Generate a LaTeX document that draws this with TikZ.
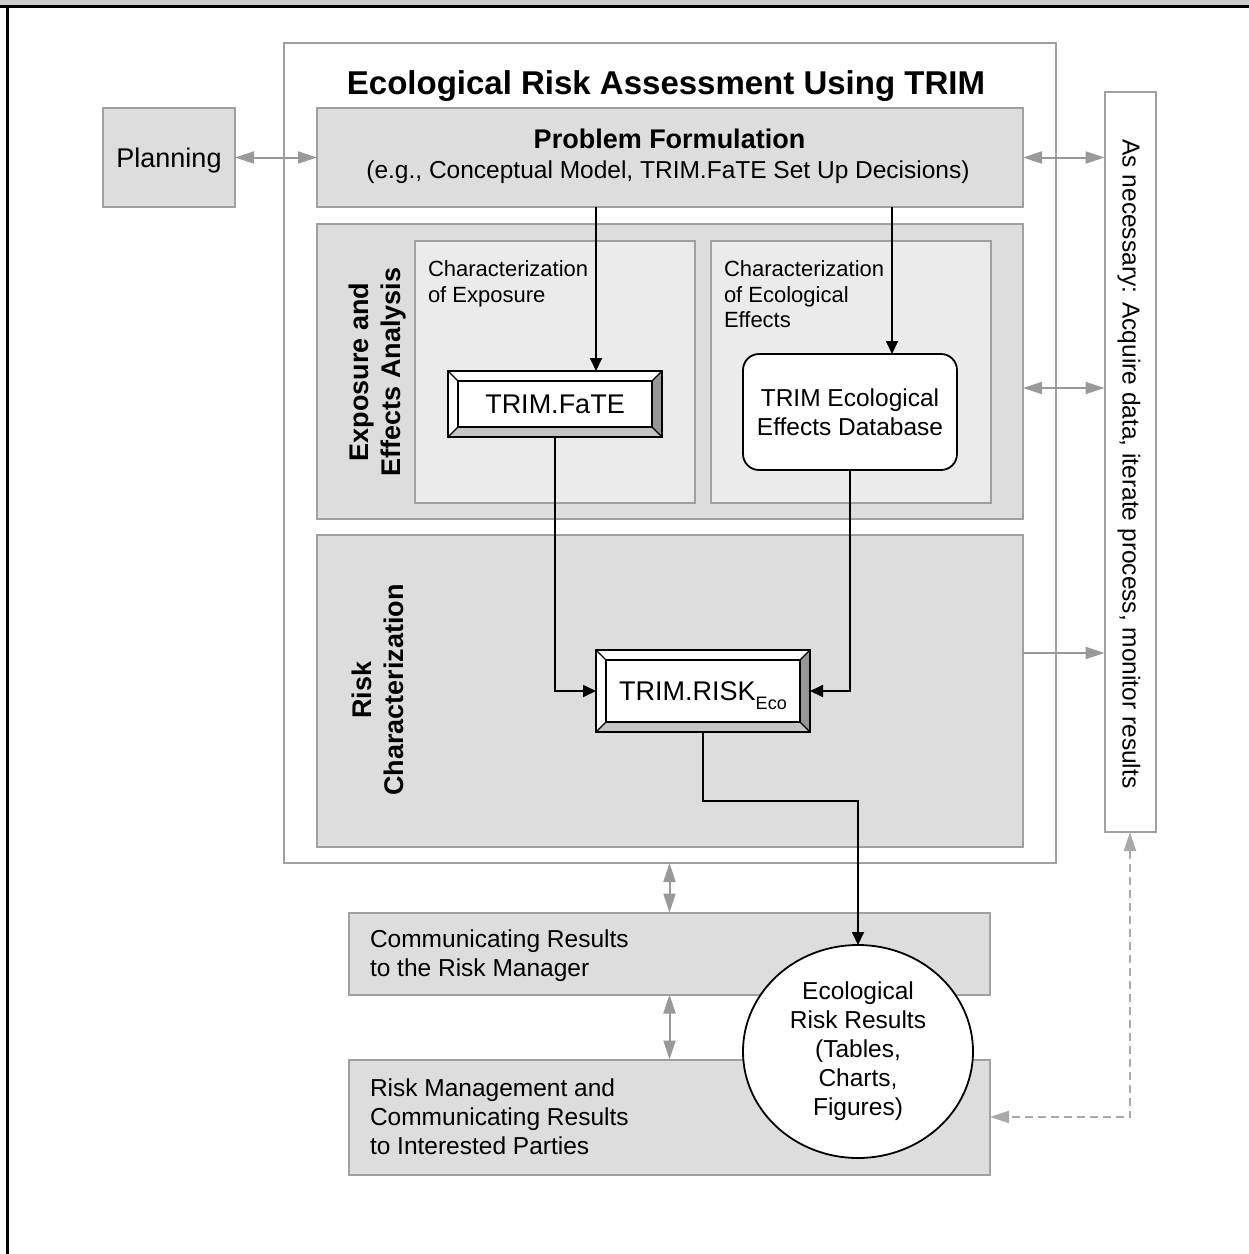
\documentclass[tikz,border=0pt]{standalone}
\usepackage{fontspec}
\setmainfont{Liberation Sans}
\usepackage{tikz}
\usetikzlibrary{arrows.meta}
\usetikzlibrary{shapes.geometric}
\definecolor{framegray}{HTML}{CCCCCC}
\definecolor{boxfill}{HTML}{DDDDDD}
\definecolor{innerfill}{HTML}{EBEBEB}
\definecolor{boxline}{HTML}{A0A0A0}
\definecolor{arrowgray}{HTML}{999999}
\definecolor{dashgray}{HTML}{AAAAAA}
\definecolor{bevelbot}{HTML}{C4C4C4}
\definecolor{bevelside}{HTML}{969696}
\newcommand{\bevelframe}[1]{%
  \fill[bevelbot] (#1.south west) -- (#1.south east) -- ([shift={(-10,-10)}]#1.south east) -- ([shift={(10,-10)}]#1.south west) -- cycle;
  \fill[bevelside] (#1.north east) -- (#1.south east) -- ([shift={(-10,-10)}]#1.south east) -- ([shift={(-10,10)}]#1.north east) -- cycle;
  \draw[line width=1.8pt] (#1.north west) rectangle (#1.south east);
  \draw[line width=1.8pt] ([shift={(10,10)}]#1.north west) rectangle ([shift={(-10,-10)}]#1.south east);
  \draw[line width=1.2pt] (#1.north west) -- ++(10,10) (#1.north east) -- ++(-10,10)
    (#1.south west) -- ++(10,-10) (#1.south east) -- ++(-10,-10);
}

\begin{document}
\begin{tikzpicture}[x=1pt,y=-1pt,line join=miter,
  every node/.style={outer sep=0pt,inner sep=0pt},
  box/.style={draw=boxline,fill=boxfill,line width=2pt},
  inbox/.style={draw=boxline,fill=innerfill,line width=2pt},
  body/.style={font=\fontsize{24.5}{29}\selectfont},
  small/.style={font=\fontsize{22}{25.5}\selectfont},
  head/.style={font=\fontsize{27}{32}\selectfont\bfseries},
  bevel/.style={fill=white,font=\fontsize{27}{30}\selectfont},
  garrow/.style={draw=arrowgray,line width=2pt,-{Triangle[length=19pt,width=12pt]}},
  gboth/.style={draw=arrowgray,line width=2pt,{Triangle[length=19pt,width=12pt]}-{Triangle[length=19pt,width=12pt]}},
  barrow/.style={line width=1.8pt,-{Triangle[length=13pt,width=12pt]}}]
\useasboundingbox (0,0) rectangle (1249,1254);
% page frame
\fill[framegray] (0,0) rectangle (1249,5);
\draw[line width=3pt] (0,6.5) -- (1249,6.5);
\draw[line width=3pt] (7.5,5) -- (7.5,1254);
% TRIM block
\node[draw=boxline,line width=2pt,minimum width=772pt,minimum height=820pt] (trim) at (670,453) {};
\node[font=\fontsize{33}{33}\selectfont\bfseries,anchor=base] (title) at (666,94) {Ecological Risk Assessment Using TRIM};
\node[box,body,font=\fontsize{27}{30}\selectfont,text depth=0pt,minimum width=132pt,minimum height=99pt] (plan) at (169,157.5) {Planning};
\node[box,minimum width=706pt,minimum height=99pt] (prob) at (670,157.5) {};
\node[head,anchor=base] (probtitle) at (669.5,148) {Problem Formulation};
\node[body,anchor=base] (probsub) at (668,178) {(e.g., Conceptual Model, TRIM.FaTE Set Up Decisions)};
% exposure and effects
\node[box,minimum width=706pt,minimum height=295pt] (expo) at (670,371.5) {};
\node[inbox,minimum width=280pt,minimum height=262pt] (expoL) at (555,371.5) {};
\node[inbox,minimum width=280pt,minimum height=262pt] (expoR) at (851,371.5) {};
\node[small,align=left,anchor=north west] (expoLtxt) at (428,261) {Characterization\\of Exposure};
\node[small,align=left,anchor=north west] (expoRtxt) at (724,261) {Characterization\\of Ecological\\Effects};
\node[head,rotate=90,align=center] (expohead) at (378,372) {Exposure and\\Effects Analysis};
\node[bevel,minimum width=214pt,minimum height=66pt] (fate) at (555,404) {TRIM.FaTE};
\bevelframe{fate}
\node[draw,line width=1.8pt,fill=white,rounded corners=16pt,minimum width=214pt,minimum height=116pt,align=center,body] (db) at (850,412) {TRIM Ecological\\Effects Database};
% risk characterization
\node[box,minimum width=706pt,minimum height=312pt] (risk) at (670,691) {};
\node[head,rotate=90,align=center] (riskhead) at (378,690) {Risk\\Characterization};
\node[bevel,text depth=0pt,minimum width=214pt,minimum height=82pt] (riskeco) at (703,691) {TRIM.RISK\raisebox{-9pt}{\fontsize{18}{18}\selectfont Eco}};
\bevelframe{riskeco}
% side box
\node[draw=boxline,line width=2pt,fill=white,minimum width=51pt,minimum height=740pt] (side) at (1130,462) {};
\node[body,rotate=-90] (sidetxt) at (1129,464) {As necessary: Acquire data, iterate process, monitor results};
% communicating
\node[box,minimum width=641pt,minimum height=82pt] (comm) at (669.5,953.5) {};
\node[body,align=left,anchor=north west] (commtxt) at (370,930) {Communicating Results\\to the Risk Manager};
\node[box,minimum width=641pt,minimum height=115pt] (mgmt) at (669.5,1117) {};
\node[body,align=left,anchor=north west] (mgmttxt) at (370,1079) {Risk Management and\\Communicating Results\\to Interested Parties};
\node[ellipse,draw,line width=1.8pt,fill=white,minimum width=230pt,minimum height=213pt,align=center,body] (result) at (858,1051.5) {Ecological\\Risk Results\\(Tables,\\Charts,\\Figures)};
% connectors
\coordinate (fx) at (596,0);
\coordinate (dx) at (892,0);
\coordinate (ey) at (0,388);
\coordinate (rky) at (0,653);
\coordinate (ry) at (0,801);
\draw[gboth] (plan.east) -- (prob.west);
\draw[barrow] (prob.south -| fx) -- (fate.north -| fx);
\draw[barrow] (prob.south -| dx) -- (db.north -| dx);
\draw[barrow] (fate.south) |- (riskeco.west);
\draw[barrow] (db.south) |- (riskeco.east);
\draw[barrow] (riskeco.south) |- (result.north |- ry) -- (result.north);
\draw[gboth] (prob.east) -- (side.west |- prob.east);
\draw[gboth] (expo.east |- ey) -- (side.west |- ey);
\draw[garrow] (risk.east |- rky) -- (side.west |- rky);
\draw[gboth] (comm.north |- trim.south) -- (comm.north);
\draw[gboth] (comm.south) -- (mgmt.north);
\draw[gboth,draw=dashgray,dash pattern=on 8pt off 5pt] (side.south) |- (mgmt.east);
\end{tikzpicture}
\end{document}
